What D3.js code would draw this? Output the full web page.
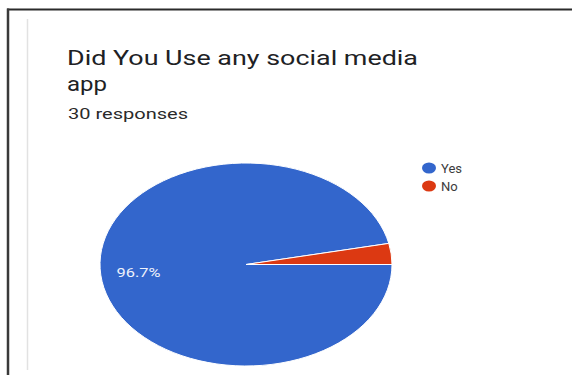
<!DOCTYPE html>
<html>
<head>
<meta charset="utf-8">
<script src="https://cdn.jsdelivr.net/npm/d3@7"></script>
<style>
  html, body { margin: 0; padding: 0; background: #fff; }
  svg { display: block; }
  text { font-family: Roboto, "Noto Sans", Arial, sans-serif; }
</style>
</head>
<body>
<svg id="chart" width="572" height="375"></svg>
<script>
// Survey answers
const categories = ["Yes", "No"];
const responses = [29, 1];
const colors = ["#3366cc", "#dc3912"];
const titleLines = ["Did You Use any social media", "app"];
const subtitle = "30 responses";

const svg = d3.select("#chart");

// card frame
svg.append("line").attr("x1", 7).attr("x2", 572).attr("y1", 9.5).attr("y2", 9.5)
  .attr("stroke", "#2b2b2b").attr("stroke-width", 2);
svg.append("line").attr("x1", 8).attr("x2", 8).attr("y1", 8.5).attr("y2", 375)
  .attr("stroke", "#3a3a3a").attr("stroke-width", 2.5);
svg.append("line").attr("x1", 27.5).attr("x2", 27.5).attr("y1", 19).attr("y2", 370)
  .attr("stroke", "#e2e2e2").attr("stroke-width", 1.5);

// title block
svg.append("text").attr("x", 67).attr("y", 65)
  .attr("font-size", 21).attr("fill", "#202124")
  .attr("textLength", 351).attr("lengthAdjust", "spacingAndGlyphs")
  .text(titleLines[0]);
svg.append("text").attr("x", 67).attr("y", 91)
  .attr("font-size", 21).attr("fill", "#202124")
  .attr("textLength", 40).attr("lengthAdjust", "spacingAndGlyphs")
  .text(titleLines[1]);
svg.append("text").attr("x", 68).attr("y", 119)
  .attr("font-size", 15).attr("fill", "#2a2a2a")
  .attr("textLength", 120).attr("lengthAdjust", "spacingAndGlyphs")
  .text(subtitle);

// pie, squashed vertically into an ellipse
const cx = 246, cy = 264.5, rx = 146, ry = 101.5;
const yScale = ry / rx;
const total = d3.sum(responses);
const color = d3.scaleOrdinal().domain(categories).range(colors);

const pie = d3.pie().sort(null)
  .startAngle(Math.PI / 2).endAngle(Math.PI / 2 + 2 * Math.PI);
const arcs = pie(responses).map((d, i) => ({ ...d, key: categories[i] }));
const arc = d3.arc().innerRadius(0).outerRadius(rx);
const labelArc = d3.arc().innerRadius(rx * 0.74).outerRadius(rx * 0.74);

const pieG = svg.append("g")
  .attr("transform", `translate(${cx},${cy}) scale(1,${yScale})`);
pieG.selectAll("path").data(arcs).join("path")
  .attr("d", arc)
  .attr("fill", d => color(d.key))
  .attr("stroke", "#ffffff")
  .attr("stroke-width", 1)
  .attr("vector-effect", "non-scaling-stroke");

// percentage labels for slices wide enough to hold them
const fmt = v => (v * 100).toFixed(1) + "%";
svg.selectAll("text.slice").data(arcs.filter(d => d.value / total > 0.05)).join("text")
  .attr("class", "slice")
  .attr("x", d => cx + labelArc.centroid(d)[0])
  .attr("y", d => cy + labelArc.centroid(d)[1] * yScale)
  .attr("text-anchor", "middle").attr("dominant-baseline", "central")
  .attr("font-size", 13).attr("fill", "#eef2fb")
  .attr("textLength", 44).attr("lengthAdjust", "spacingAndGlyphs")
  .text(d => fmt(d.value / total));

// legend
const legend = svg.append("g").attr("transform", "translate(429,168)");
const item = legend.selectAll("g").data(categories).join("g")
  .attr("transform", (d, i) => `translate(0,${i * 18})`);
item.append("ellipse").attr("rx", 7).attr("ry", 5.5).attr("fill", d => color(d));
item.append("text").attr("x", 12).attr("dominant-baseline", "central")
  .attr("font-size", 13).attr("fill", "#3c3c3c")
  .text(d => d);
</script>
</body>
</html>
